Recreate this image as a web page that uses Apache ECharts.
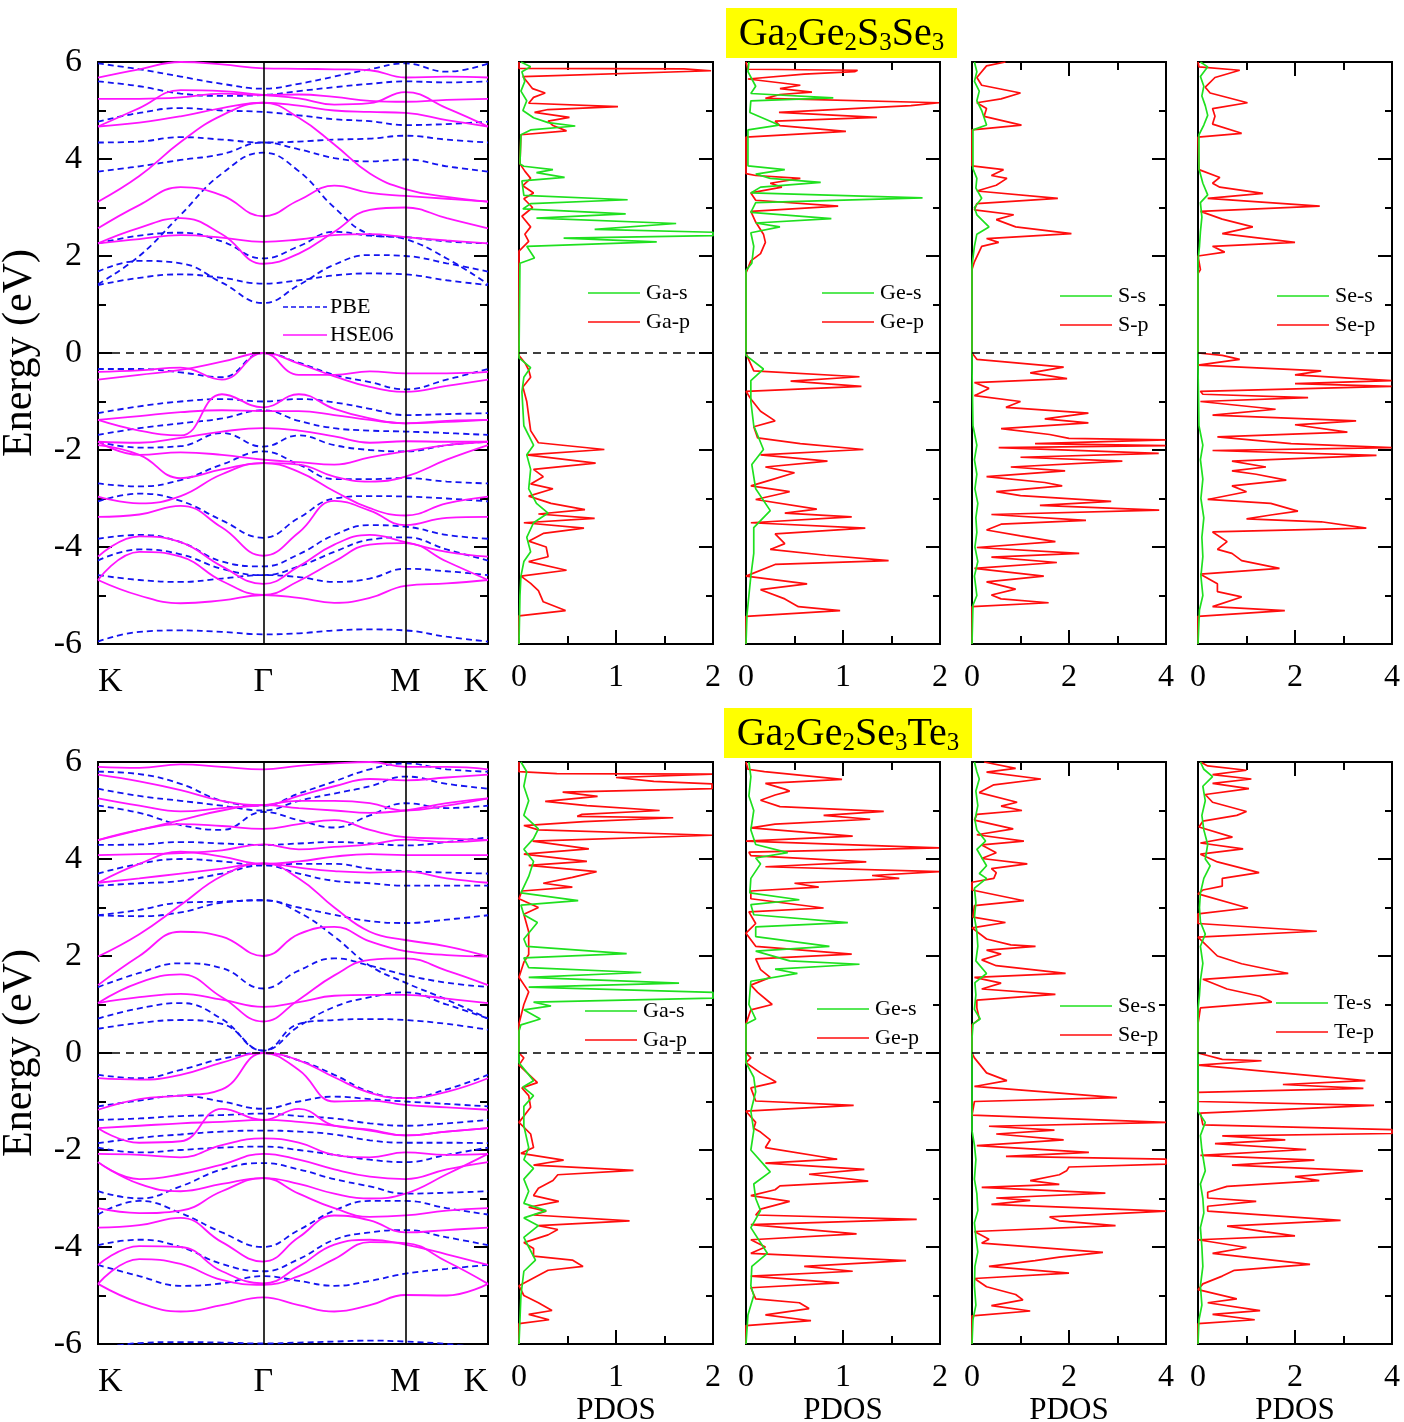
<!DOCTYPE html>
<html>
<head>
<meta charset="utf-8">
<title>Band structure and PDOS</title>
<script src="https://cdn.jsdelivr.net/npm/echarts@6.0.0/dist/echarts.min.js"></script>
<style>
	html, body { margin: 0; padding: 0; background: #fff; }
	#main { width: 1404px; height: 1422px; }
</style>
</head>
<body>
<div id="main"></div>
<script>
// k path: K - Gamma - M - K
var kPath = [0, 0.25, 0.5, 0.75, 1, 1.215, 1.43, 1.645, 1.86, 2.11, 2.36];
var kTicks = [0, 1, 1.86, 2.36];
var kLabels = ['K', 'Γ', 'M', 'K'];

// Ga2Ge2S3Se3 bands (eV at each kPath point)
var pbeTop = [
	[1.40, 1.55, 1.62, 1.55, 1.43, 1.5, 1.6, 1.64, 1.62, 1.5, 1.40],
	[1.68, 1.9, 1.85, 1.45, 1.03, 1.4, 1.82, 2.02, 2.0, 1.85, 1.68],
	[2.26, 2.42, 2.48, 2.3, 1.95, 2.2, 2.5, 2.42, 2.39, 2.3, 2.26],
	[1.42, 2.0, 2.85, 3.7, 4.13, 3.75, 3.0, 2.45, 2.35, 1.95, 1.42],
	[3.74, 3.85, 3.98, 4.1, 4.34, 4.2, 4.02, 3.95, 3.99, 3.85, 3.74],
	[4.34, 4.36, 4.45, 4.4, 4.34, 4.36, 4.4, 4.42, 4.48, 4.4, 4.34],
	[4.77, 4.95, 5.05, 5.0, 4.97, 4.9, 4.82, 4.78, 4.7, 4.72, 4.77],
	[5.6, 5.5, 5.35, 5.3, 5.32, 5.4, 5.48, 5.55, 5.6, 5.58, 5.6],
	[5.97, 5.85, 5.7, 5.55, 5.45, 5.55, 5.7, 5.85, 5.97, 5.8, 5.97],
	[-0.33, -0.33, -0.4, -0.5, 0, -0.2, -0.45, -0.6, -0.75, -0.55, -0.33],
	[-1.24, -1.1, -1.0, -0.95, -1.0, -0.95, -1.02, -1.15, -1.28, -1.26, -1.24],
	[-1.69, -1.55, -1.45, -1.35, -1.18, -1.4, -1.55, -1.6, -1.62, -1.65, -1.69],
	[-1.83, -1.95, -1.92, -1.65, -1.93, -1.7, -1.9, -2.0, -2.03, -1.9, -1.83],
	[-2.69, -2.75, -2.62, -2.3, -2.03, -2.3, -2.6, -2.6, -2.58, -2.65, -2.69],
	[-3.06, -2.9, -3.05, -3.45, -3.81, -3.4, -3.0, -2.95, -2.96, -3.0, -3.06],
	[-3.83, -3.75, -3.9, -4.3, -4.4, -4.15, -3.75, -3.55, -3.58, -3.75, -3.83],
	[-4.28, -4.05, -4.15, -4.45, -4.58, -4.4, -4.1, -3.85, -3.8, -4.05, -4.28],
	[-4.58, -4.68, -4.72, -4.65, -4.58, -4.62, -4.72, -4.65, -4.45, -4.5, -4.58],
	[-5.95, -5.75, -5.72, -5.75, -5.8, -5.78, -5.72, -5.7, -5.72, -5.85, -5.95],
];
var hseTop = [
	[2.26, 2.58, 2.78, 2.45, 1.84, 2.05, 2.5, 2.95, 3.0, 2.78, 2.57],
	[2.26, 2.35, 2.43, 2.38, 2.29, 2.34, 2.43, 2.45, 2.39, 2.32, 2.26],
	[2.57, 3.05, 3.42, 3.25, 2.82, 3.15, 3.45, 3.3, 3.24, 3.18, 3.12],
	[3.12, 3.65, 4.35, 4.9, 5.16, 4.85, 4.3, 3.7, 3.38, 3.22, 3.12],
	[4.67, 4.75, 4.88, 5.05, 5.16, 5.1, 5.0, 4.97, 4.95, 4.8, 4.67],
	[4.67, 5.05, 5.42, 5.4, 5.32, 5.25, 5.12, 5.15, 5.38, 5.05, 4.67],
	[5.24, 5.24, 5.27, 5.35, 5.32, 5.33, 5.28, 5.2, 5.18, 5.22, 5.24],
	[5.68, 5.85, 6.0, 5.95, 5.87, 5.86, 5.85, 5.83, 5.68, 5.7, 5.68],
	[-0.39, -0.36, -0.3, -0.55, 0, -0.45, -0.45, -0.38, -0.42, -0.42, -0.39],
	[-0.55, -0.45, -0.35, -0.18, 0, -0.22, -0.48, -0.7, -0.8, -0.68, -0.55],
	[-1.38, -1.6, -1.7, -0.85, -1.12, -0.85, -1.15, -1.35, -1.45, -1.42, -1.38],
	[-1.38, -1.3, -1.22, -1.18, -1.2, -1.2, -1.28, -1.38, -1.45, -1.4, -1.38],
	[-1.83, -1.85, -1.75, -1.62, -1.55, -1.6, -1.72, -1.85, -1.82, -1.83, -1.83],
	[-1.83, -2.1, -2.05, -2.1, -2.2, -2.25, -2.3, -2.15, -2.03, -1.9, -1.83],
	[-1.9, -2.1, -2.58, -2.4, -2.27, -2.3, -2.55, -2.65, -2.55, -2.2, -1.9],
	[-2.96, -3.1, -2.95, -2.5, -2.27, -2.45, -2.85, -3.2, -3.35, -3.1, -2.96],
	[-3.38, -3.33, -3.15, -3.6, -4.18, -3.7, -3.05, -3.25, -3.55, -3.4, -3.38],
	[-4.2, -3.78, -3.9, -4.4, -4.76, -4.4, -3.95, -3.75, -3.9, -4.1, -4.2],
	[-4.68, -4.1, -4.2, -4.7, -4.99, -4.7, -4.3, -3.95, -3.92, -4.3, -4.68],
	[-4.68, -5.0, -5.16, -5.1, -4.99, -5.05, -5.15, -5.05, -4.8, -4.75, -4.68],
];

// Ga2Ge2Se3Te3 bands
var pbeBot = [
	[0.5, 0.62, 0.68, 0.6, 0.05, 0.6, 0.68, 0.7, 0.68, 0.6, 0.48],
	[0.71, 0.92, 1.03, 0.7, 0.05, 0.55, 0.95, 1.15, 1.25, 1.0, 0.71],
	[1.36, 1.65, 1.85, 1.75, 1.33, 1.7, 1.95, 1.8, 1.61, 1.45, 1.36],
	[2.84, 2.95, 3.1, 3.12, 3.15, 2.9, 2.4, 1.8, 1.45, 1.1, 0.71],
	[2.84, 2.82, 2.9, 3.1, 3.15, 3.0, 2.85, 2.72, 2.68, 2.75, 2.84],
	[3.45, 3.5, 3.55, 3.7, 3.87, 3.7, 3.55, 3.5, 3.45, 3.45, 3.45],
	[3.7, 3.9, 4.0, 3.95, 3.87, 3.9, 3.9, 3.8, 3.75, 3.72, 3.7],
	[4.29, 4.3, 4.35, 4.32, 4.29, 4.32, 4.35, 4.32, 4.28, 4.35, 4.45],
	[5.1, 4.95, 4.7, 4.6, 4.97, 4.8, 4.65, 4.9, 5.15, 5.05, 5.1],
	[5.45, 5.3, 5.2, 5.1, 5.0, 5.2, 5.35, 5.5, 5.7, 5.55, 5.45],
	[5.8, 5.75, 5.55, 5.2, 5.1, 5.35, 5.6, 5.85, 5.97, 5.85, 5.8],
	[-0.45, -0.52, -0.35, -0.12, 0, -0.15, -0.45, -0.8, -0.93, -0.75, -0.45],
	[-1.1, -0.98, -0.88, -1.0, -1.15, -1.0, -0.9, -0.95, -1.0, -1.05, -1.1],
	[-1.38, -1.35, -1.3, -1.28, -1.25, -1.3, -1.35, -1.45, -1.5, -1.45, -1.38],
	[-1.86, -1.75, -1.68, -1.62, -1.6, -1.62, -1.68, -1.8, -1.85, -1.85, -1.86],
	[-1.95, -2.05, -2.0, -1.95, -1.93, -2.0, -2.1, -2.2, -2.25, -2.1, -1.95],
	[-2.85, -3.0, -2.75, -2.4, -2.27, -2.4, -2.6, -2.75, -2.9, -2.88, -2.85],
	[-3.33, -3.05, -3.3, -3.7, -4.0, -3.65, -3.25, -3.05, -3.05, -3.2, -3.33],
	[-3.96, -3.85, -4.0, -4.35, -4.5, -4.25, -3.85, -3.7, -3.65, -3.8, -3.96],
	[-4.37, -4.6, -4.8, -4.75, -4.6, -4.7, -4.8, -4.7, -4.55, -4.45, -4.37],
	[-6.1, -5.98, -5.96, -5.97, -5.99, -5.97, -5.95, -5.93, -5.95, -6.0, -6.1],
];
var hseBot = [
	[1.03, 1.15, 1.22, 1.1, 0.95, 1.05, 1.18, 1.2, 1.2, 1.12, 1.03],
	[1.03, 1.45, 1.62, 1.15, 0.65, 1.1, 1.6, 1.92, 1.95, 1.7, 1.40],
	[1.40, 2.0, 2.5, 2.4, 2.0, 2.45, 2.6, 2.3, 2.1, 2.02, 1.99],
	[1.99, 2.45, 3.05, 3.65, 3.91, 3.6, 3.0, 2.5, 2.33, 2.2, 1.99],
	[3.51, 3.6, 3.7, 3.8, 3.91, 3.82, 3.75, 3.72, 3.74, 3.6, 3.51],
	[3.51, 3.9, 4.15, 4.05, 3.9, 3.95, 4.05, 4.1, 4.08, 4.08, 4.08],
	[4.08, 4.1, 4.12, 4.18, 4.3, 4.2, 4.25, 4.3, 4.4, 4.35, 4.39],
	[4.39, 4.6, 4.72, 4.68, 4.62, 4.72, 4.8, 4.6, 4.45, 4.42, 4.39],
	[4.39, 4.6, 4.8, 5.0, 5.11, 5.05, 5.0, 4.95, 5.0, 5.15, 5.25],
	[5.25, 5.1, 4.98, 5.05, 5.11, 5.2, 5.2, 5.15, 5.0, 5.1, 5.25],
	[5.74, 5.6, 5.42, 5.2, 5.11, 5.3, 5.5, 5.65, 5.62, 5.68, 5.74],
	[5.9, 5.88, 5.95, 5.9, 5.85, 5.92, 5.97, 6.0, 5.9, 5.9, 5.85],
	[-0.52, -0.55, -0.45, -0.2, 0, -0.15, -0.5, -0.82, -0.93, -0.8, -0.52],
	[-1.17, -0.95, -0.88, -0.75, 0, -0.35, -1.0, -0.98, -1.07, -1.12, -1.17],
	[-1.55, -1.85, -1.82, -1.15, -1.38, -1.15, -1.5, -1.58, -1.7, -1.62, -1.55],
	[-1.55, -1.5, -1.45, -1.42, -1.38, -1.42, -1.5, -1.6, -1.7, -1.62, -1.55],
	[-2.08, -2.1, -2.15, -1.9, -1.76, -1.85, -2.1, -2.15, -2.05, -2.1, -2.08],
	[-2.25, -2.6, -2.5, -2.3, -2.08, -2.2, -2.4, -2.55, -2.6, -2.4, -2.25],
	[-2.25, -2.7, -2.85, -2.7, -2.58, -2.7, -2.9, -3.0, -2.9, -2.5, -2.08],
	[-3.2, -3.3, -3.25, -2.85, -2.58, -2.9, -3.2, -3.38, -3.35, -3.25, -3.2],
	[-3.6, -3.55, -3.4, -3.9, -4.3, -3.8, -3.35, -3.45, -3.7, -3.65, -3.6],
	[-4.37, -3.98, -4.0, -4.5, -4.75, -4.4, -3.95, -3.85, -3.95, -4.15, -4.37],
	[-4.76, -4.25, -4.35, -4.68, -4.78, -4.6, -4.25, -3.9, -3.92, -4.3, -4.76],
	[-4.76, -5.15, -5.33, -5.2, -5.04, -5.2, -5.33, -5.2, -4.99, -5.0, -4.76],
];

// PDOS curves as [energy, states/eV] pairs
var gaS1 = [[6,0.02],[5.9,0.12],[5.8,0.03],[5.6,0.06],[5.4,0.02],[5.2,0.08],[5.0,0.04],[4.85,0.15],[4.75,0.3],[4.68,0.58],[4.6,0.12],[4.5,0.02],[3.9,0.01],[3.85,0.05],[3.78,0.35],[3.72,0.18],[3.62,0.47],[3.55,0.03],[3.25,0.05],[3.16,1.12],[3.08,0.12],[2.97,0.04],[2.87,1.1],[2.78,0.18],[2.67,1.62],[2.55,0.78],[2.49,2.0],[2.42,2.0],[2.37,0.46],[2.29,1.42],[2.2,0.08],[1.96,0.16],[1.85,0.01],[-0.1,0],[-0.3,0.12],[-0.5,0.05],[-0.8,0.03],[-1.5,0.05],[-1.9,0.15],[-2.1,0.08],[-2.4,0.12],[-2.8,0.1],[-3.1,0.18],[-3.3,0.3],[-3.5,0.15],[-3.8,0.08],[-4.1,0.12],[-4.3,0.05],[-4.6,0.02],[-5.0,0.01],[-6,0]];
var gaP1 = [[6,0],[5.87,0],[5.86,1.7],[5.82,1.98],[5.7,0.04],[5.55,0.1],[5.45,0.14],[5.36,0.27],[5.27,0.15],[5.15,0.1],[5.08,1.02],[5.02,0.3],[4.96,0.16],[4.86,0.52],[4.78,0.3],[4.69,0.35],[4.58,0.49],[4.5,0.02],[3.9,0.01],[3.75,0.06],[3.6,0.12],[3.45,0.04],[3.3,0.15],[3.18,0.05],[3.0,0.14],[2.82,0.03],[2.6,0.12],[2.45,0.06],[2.3,0.1],[2.1,0],[-0.05,0],[-0.2,0.06],[-0.35,0.1],[-0.5,0.12],[-0.7,0.04],[-1.0,0.08],[-1.3,0.1],[-1.6,0.12],[-1.85,0.2],[-1.99,0.88],[-2.1,0.08],[-2.27,0.79],[-2.4,0.15],[-2.55,0.25],[-2.7,0.12],[-2.8,0.35],[-2.95,0.1],[-3.1,0.33],[-3.23,0.68],[-3.32,0.2],[-3.41,0.78],[-3.5,0.05],[-3.61,0.67],[-3.72,0.25],[-3.88,0.1],[-4.0,0.28],[-4.2,0.3],[-4.3,0.1],[-4.48,0.49],[-4.6,0.02],[-4.75,0.12],[-4.9,0.2],[-5.13,0.25],[-5.31,0.48],[-5.42,0],[-6,0]];
var geS1 = [[6,0.03],[5.8,0.02],[5.5,0.1],[5.35,0.05],[5.26,0.9],[5.2,0.05],[4.96,0.04],[4.7,0.34],[4.6,0.02],[3.86,0.02],[3.78,0.4],[3.69,0.1],[3.6,0.25],[3.52,0.77],[3.42,0.15],[3.3,0.05],[3.2,1.82],[3.1,0.1],[2.9,0.05],[2.77,0.88],[2.68,0.1],[2.6,0.35],[2.48,0.05],[2.2,0.08],[1.85,0.06],[1.7,0],[-0.05,0],[-0.33,0.18],[-0.57,0.05],[-1.0,0.05],[-1.5,0.08],[-1.99,0.18],[-2.3,0.06],[-2.8,0.1],[-3.25,0.25],[-3.6,0.08],[-4.13,0.08],[-4.6,0.05],[-5.0,0.03],[-5.4,0.01],[-6,0]];
var geP1 = [[6,0],[5.85,0.02],[5.83,1.15],[5.8,1.12],[5.75,0.6],[5.65,0.02],[5.52,0.56],[5.45,0.35],[5.38,0.68],[5.33,0.35],[5.25,0.2],[5.16,1.99],[5.1,1.7],[4.96,0.34],[4.86,1.35],[4.78,0.3],[4.69,0.35],[4.57,1.03],[4.45,0],[3.7,0],[3.66,0.1],[3.6,0.56],[3.5,0.25],[3.42,0.37],[3.3,0.05],[3.15,0.1],[3.03,0.95],[2.92,0.05],[2.7,0.1],[2.45,0.18],[2.28,0.2],[2.05,0.15],[1.9,0.05],[1.65,0],[0,0],[-0.1,0.02],[-0.37,0.08],[-0.49,1.17],[-0.58,0.46],[-0.69,1.19],[-0.79,0],[-0.95,0.05],[-1.2,0.15],[-1.4,0.3],[-1.52,0.08],[-1.75,0.12],[-1.87,0.56],[-1.99,1.21],[-2.1,0.15],[-2.23,0.84],[-2.35,0.2],[-2.47,0.5],[-2.62,0.25],[-2.74,0.05],[-2.86,0.45],[-3.02,0.1],[-3.22,0.73],[-3.3,0.4],[-3.38,1.09],[-3.5,0.05],[-3.61,1.23],[-3.73,0.3],[-3.93,0.4],[-4.05,0.25],[-4.17,0.82],[-4.28,1.47],[-4.36,0.3],[-4.6,0],[-4.76,0.63],[-4.88,0.15],[-5.07,0.4],[-5.23,0.54],[-5.31,0.97],[-5.43,0],[-6,0]];
var sS1 = [[6,0.05],[5.8,0.1],[5.6,0.05],[5.4,0.15],[5.2,0.1],[5.0,0.2],[4.85,0.25],[4.7,0.3],[4.6,0.02],[3.8,0.02],[3.6,0.1],[3.4,0.08],[3.19,0.2],[3.0,0.05],[2.85,0.1],[2.6,0.35],[2.45,0.1],[2.2,0.05],[1.8,0],[-0.3,0],[-1.5,0.02],[-1.9,0.1],[-2.2,0.05],[-2.5,0.1],[-2.8,0.06],[-3.1,0.12],[-3.4,0.08],[-3.7,0.1],[-4.0,0.06],[-4.3,0.12],[-4.6,0.05],[-5.0,0.1],[-5.2,0.02],[-6,0]];
var sP1 = [[6,0.69],[5.92,0.3],[5.68,0.1],[5.52,0.2],[5.36,1.0],[5.24,0.6],[5.16,0.1],[5.04,0.3],[4.88,0.25],[4.7,1.02],[4.6,0],[3.86,0],[3.78,0.65],[3.66,0.4],[3.6,0.72],[3.46,0.5],[3.34,0.1],[3.19,1.77],[3.08,0.1],[2.95,0.05],[2.85,0.86],[2.75,0.5],[2.6,0.9],[2.46,2.05],[2.36,0.3],[2.28,0.55],[2.2,0.2],[1.88,0.05],[1.72,0],[0,0],[-0.13,0.1],[-0.29,1.89],[-0.41,1.2],[-0.53,1.96],[-0.61,0.05],[-0.73,0.35],[-0.88,0.05],[-1.0,1.0],[-1.12,0.7],[-1.24,2.4],[-1.36,1.5],[-1.44,2.4],[-1.56,0.6],[-1.68,1.6],[-1.76,2.0],[-1.79,3.99],[-1.87,1.3],[-1.91,3.99],[-1.95,0.55],[-2.07,3.85],[-2.15,1.0],[-2.23,3.1],[-2.35,0.8],[-2.43,1.92],[-2.55,0.3],[-2.67,1.5],[-2.74,1.86],[-2.86,0.5],[-2.94,1.0],[-3.06,2.87],[-3.14,1.4],[-3.24,3.86],[-3.33,0.4],[-3.45,2.35],[-3.53,0.6],[-3.65,0.3],[-3.77,1.0],[-3.89,1.72],[-4.01,0.1],[-4.13,2.21],[-4.21,0.4],[-4.32,1.75],[-4.44,0.05],[-4.6,1.48],[-4.72,0.3],[-4.87,0.9],[-4.99,0.4],[-5.07,0.6],[-5.15,1.58],[-5.23,0],[-6,0]];
var seS1 = [[6,0.05],[5.9,0.2],[5.7,0.05],[5.5,0.12],[5.3,0.08],[5.1,0.15],[4.9,0.2],[4.7,0.12],[4.5,0.02],[3.8,0.02],[3.5,0.1],[3.26,0.2],[3.1,0.05],[2.8,0.08],[2.5,0.05],[2.2,0.03],[1.9,0],[-0.3,0],[-1.5,0.02],[-1.9,0.1],[-2.2,0.05],[-2.6,0.1],[-3.0,0.06],[-3.4,0.12],[-3.8,0.08],[-4.2,0.1],[-4.6,0.06],[-5.0,0.1],[-5.3,0.03],[-6,0]];
var seP1 = [[6,0],[5.9,0.02],[5.83,0.86],[5.68,0.35],[5.48,0.15],[5.36,0.25],[5.16,1.02],[5.04,0.3],[4.88,0.35],[4.72,0.3],[4.53,0.9],[4.45,0],[3.78,0.02],[3.62,0.45],[3.5,0.3],[3.42,0.45],[3.29,1.34],[3.19,0.2],[3.03,2.51],[2.92,0.05],[2.76,0.5],[2.6,1.13],[2.46,0.5],[2.28,2.0],[2.2,0.3],[2.08,0.55],[2.0,0],[1.72,0.05],[1.64,0],[0,0],[-0.05,0.5],[-0.13,0.86],[-0.25,0],[-0.37,2.54],[-0.45,2.0],[-0.57,3.99],[-0.63,2.0],[-0.69,3.99],[-0.79,0.05],[-0.85,0.1],[-0.92,2.27],[-1.0,0.05],[-1.16,1.6],[-1.28,0.3],[-1.4,3.26],[-1.48,2.0],[-1.63,3.08],[-1.73,0.4],[-1.87,1.92],[-1.95,3.99],[-2.01,0.3],[-2.11,3.68],[-2.23,0.7],[-2.35,1.4],[-2.43,0.7],[-2.5,1.2],[-2.62,1.82],[-2.74,0.7],[-2.86,1.0],[-3.02,0.2],[-3.1,1.5],[-3.26,2.06],[-3.34,1.5],[-3.42,1.0],[-3.48,2.54],[-3.61,3.47],[-3.69,0.3],[-3.89,0.6],[-4.05,0.4],[-4.13,0.7],[-4.28,0.9],[-4.44,1.68],[-4.56,0.05],[-4.76,0.4],[-4.92,0.4],[-5.03,0.9],[-5.23,0.3],[-5.31,1.79],[-5.43,0],[-6,0]];

var gaS2 = [[6,0.02],[5.8,0.08],[5.5,0.05],[5.2,0.1],[4.9,0.05],[4.62,0.2],[4.42,0.15],[4.2,0.05],[3.95,0.15],[3.64,0.1],[3.3,0.02],[3.14,0.61],[3.05,0.02],[2.85,0.05],[2.69,0.19],[2.35,0.05],[2.2,0.08],[2.05,1.11],[1.96,0.05],[1.76,0.1],[1.66,1.26],[1.56,0.1],[1.44,1.65],[1.36,0.1],[1.25,2.0],[1.13,2.0],[1.05,0.15],[0.97,0.33],[0.89,0.05],[0.7,0.22],[0.58,0.02],[0.45,0],[-0.2,0],[-0.57,0.15],[-0.7,0.04],[-0.88,0.15],[-1.1,0.05],[-1.5,0.05],[-1.95,0.1],[-2.2,0.05],[-2.38,0.15],[-2.6,0.05],[-2.85,0.1],[-3.1,0.05],[-3.25,0.28],[-3.4,0.05],[-3.56,0.2],[-3.8,0.05],[-4.0,0.1],[-4.27,0.17],[-4.5,0.05],[-5.0,0.02],[-6,0]];
var gaP2 = [[6,0],[5.8,0],[5.76,0.39],[5.75,1.99],[5.72,1.99],[5.68,1.0],[5.6,1.39],[5.55,1.99],[5.45,1.99],[5.38,0.45],[5.29,0.81],[5.19,0.27],[5.1,0.7],[5.0,1.45],[4.92,0.65],[4.88,0.6],[4.85,1.59],[4.77,0.67],[4.69,0.05],[4.6,0.2],[4.49,1.99],[4.37,0.14],[4.21,0.72],[4.1,0.05],[3.95,0.7],[3.87,0.1],[3.74,0.8],[3.62,0.55],[3.5,0.25],[3.42,0.55],[3.34,0.03],[3.18,0],[3.0,0.2],[2.86,0.05],[2.5,0.1],[2.03,0.1],[1.87,0.05],[1.56,0],[1.26,0.1],[1.0,0.05],[0.6,0],[0,0],[-0.1,0.05],[-0.25,0],[-0.61,0.19],[-0.72,0.03],[-0.88,0.1],[-1.12,0.12],[-1.43,0],[-1.67,0.12],[-1.95,0.15],[-2.07,0.02],[-2.21,0.46],[-2.31,0.15],[-2.42,1.18],[-2.51,0.4],[-2.63,0.35],[-2.79,0.2],[-2.94,0.15],[-3.06,0.41],[-3.18,0.1],[-3.26,0.28],[-3.34,0.15],[-3.46,1.14],[-3.56,0.2],[-3.64,0.4],[-3.75,0.3],[-3.91,0.05],[-4.03,0.15],[-4.19,0.15],[-4.27,0.55],[-4.4,0.66],[-4.48,0.3],[-4.64,0.15],[-4.8,0],[-5.0,0.05],[-5.15,0.2],[-5.31,0.34],[-5.39,0.1],[-5.5,0.31],[-5.58,0],[-6,0]];
var geS2 = [[6,0.03],[5.7,0.05],[5.3,0.03],[5.0,0.08],[4.6,0.05],[4.3,0.1],[4.13,0.43],[4.02,0.1],[3.9,0.15],[3.6,0.05],[3.3,0.04],[3.16,0.55],[3.06,0.05],[2.85,0.08],[2.69,1.05],[2.6,0.1],[2.4,0.1],[2.2,0.86],[2.1,0.1],[1.9,0.45],[1.83,1.17],[1.73,0.3],[1.64,0.53],[1.48,0.05],[1.0,0.03],[0.7,0.1],[0.6,0],[-0.2,0],[-0.5,0.08],[-0.8,0.1],[-1.2,0.05],[-1.6,0.08],[-2.0,0.05],[-2.45,0.25],[-2.7,0.08],[-3.0,0.1],[-3.25,0.15],[-3.6,0.05],[-4.13,0.22],[-4.4,0.06],[-4.8,0.05],[-5.0,0.08],[-5.4,0.02],[-6,0]];
var geP2 = [[6,0],[5.85,0.02],[5.8,0.19],[5.64,0.99],[5.56,0.2],[5.44,0.4],[5.4,0.45],[5.32,0.3],[5.21,0.15],[5.08,0.35],[4.98,1.42],[4.9,0.8],[4.82,1.28],[4.72,0.3],[4.64,0.05],[4.47,1.1],[4.37,0],[4.23,1.99],[4.14,0.03],[4.07,0.05],[3.94,1.24],[3.84,0.2],[3.74,1.99],[3.66,1.3],[3.6,1.58],[3.5,0.5],[3.42,0.75],[3.34,0.05],[3.18,0.05],[2.99,0.8],[2.91,0.03],[2.67,0.1],[2.47,0],[2.2,0.1],[2.04,1.09],[1.94,0.1],[1.72,0.15],[1.56,0.25],[1.4,0.05],[1.25,0.12],[1.0,0.27],[0.89,0.05],[0.6,0],[0,0],[-0.1,0.05],[-0.2,0],[-0.41,0.15],[-0.6,0.31],[-0.72,0.05],[-0.99,0.1],[-1.08,1.11],[-1.2,0],[-1.43,0.1],[-1.55,0.08],[-1.63,0.15],[-1.79,0.25],[-1.95,0.2],[-2.19,0.94],[-2.27,0.2],[-2.4,1.22],[-2.5,0.65],[-2.64,1.26],[-2.74,0.35],[-2.82,0.3],[-2.94,0.05],[-3.06,0.45],[-3.22,0.15],[-3.34,0.1],[-3.43,1.76],[-3.54,0.05],[-3.73,1.14],[-3.85,0.05],[-4.0,0.2],[-4.13,0.05],[-4.28,1.65],[-4.4,0.6],[-4.5,1.1],[-4.6,0.05],[-4.74,0.96],[-4.84,0.05],[-5.07,0.1],[-5.15,0.55],[-5.27,0.65],[-5.4,0.2],[-5.52,0.67],[-5.62,0],[-6,0]];
var seS2 = [[6,0.05],[5.8,0.1],[5.65,0.15],[5.4,0.08],[5.1,0.12],[4.8,0.06],[4.6,0.1],[4.37,0.28],[4.2,0.1],[3.86,0.3],[3.7,0.15],[3.6,0.3],[3.4,0.05],[3.1,0.08],[2.8,0.05],[2.5,0.1],[2.2,0.12],[1.9,0.08],[1.64,0.3],[1.45,0.06],[1.2,0.08],[0.9,0.05],[0.7,0.17],[0.6,0.02],[0.3,0],[-1.6,0],[-1.9,0.05],[-2.2,0.08],[-2.6,0.05],[-2.9,0.1],[-3.25,0.12],[-3.5,0.05],[-3.8,0.08],[-4.1,0.12],[-4.4,0.06],[-4.8,0.05],[-5.2,0.08],[-5.5,0.02],[-6,0]];
var seP2 = [[6,0.25],[5.87,0.9],[5.79,0.3],[5.65,1.42],[5.53,0.45],[5.37,0.15],[5.17,0.93],[5.09,0.6],[5.0,1.03],[4.92,0.1],[4.8,0.05],[4.62,0.85],[4.5,0.1],[4.37,1.07],[4.29,0.2],[4.13,0.5],[4.01,0.2],[3.9,1.14],[3.8,0.4],[3.72,0.5],[3.6,0.45],[3.52,0],[3.36,0],[3.14,1.07],[3.04,0.05],[2.8,0.02],[2.69,0.69],[2.58,0],[2.35,0.3],[2.23,0.8],[2.2,1.31],[2.12,0.3],[2.04,0.6],[1.92,0.2],[1.8,0.5],[1.64,1.93],[1.56,0.05],[1.44,0.6],[1.32,0.2],[1.21,1.72],[1.09,0.1],[0.93,0.1],[0.7,0.15],[0.58,0],[0,0],[-0.1,0.05],[-0.41,0.3],[-0.57,0.72],[-0.69,0.05],[-0.92,2.99],[-1.0,0.05],[-1.28,0],[-1.43,4.0],[-1.51,0.35],[-1.59,1.7],[-1.67,0.5],[-1.79,1.89],[-1.91,0.1],[-2.05,2.41],[-2.13,0.7],[-2.19,4.0],[-2.29,4.0],[-2.35,2.0],[-2.43,1.95],[-2.51,1.8],[-2.63,1.2],[-2.71,1.8],[-2.77,0.2],[-2.89,2.75],[-2.99,0.5],[-3.04,1.2],[-3.12,0.4],[-3.26,4.0],[-3.38,1.6],[-3.46,1.8],[-3.56,2.96],[-3.68,0.05],[-3.84,0.35],[-3.92,0.2],[-4.11,2.7],[-4.21,1.8],[-4.28,1.3],[-4.4,0.35],[-4.54,2.0],[-4.65,0.05],[-4.82,0.3],[-4.98,0.9],[-5.09,1.05],[-5.21,0.4],[-5.32,1.2],[-5.42,0],[-6,0]];
var teS2 = [[6,0.05],[5.85,0.12],[5.7,0.3],[5.5,0.1],[5.2,0.15],[4.9,0.08],[4.6,0.12],[4.3,0.2],[4.0,0.15],[3.86,0.25],[3.6,0.12],[3.3,0.05],[3.0,0.03],[2.7,0.05],[2.45,0.15],[2.2,0.05],[1.85,0.1],[1.5,0.05],[1.2,0.03],[0.9,0],[-1.2,0],[-1.43,0.15],[-1.7,0.05],[-2.0,0.08],[-2.43,0.15],[-2.7,0.05],[-3.0,0.1],[-3.3,0.12],[-3.6,0.05],[-4.0,0.08],[-4.4,0.1],[-4.8,0.05],[-5.2,0.08],[-5.5,0.02],[-6,0]];
var teP2 = [[6,0.05],[5.92,0.2],[5.83,1.0],[5.74,0.3],[5.65,1.1],[5.56,0.3],[5.45,1.05],[5.33,0.15],[5.17,0.3],[4.98,1.0],[4.9,0.8],[4.78,0.1],[4.66,0.02],[4.45,0.71],[4.33,0.05],[4.21,0.93],[4.1,0.05],[3.94,0.4],[3.72,1.26],[3.6,0.5],[3.44,0.5],[3.36,0.1],[3.28,0],[2.99,1.03],[2.87,0],[2.67,0],[2.51,2.45],[2.39,0],[2.0,0.4],[1.84,0.9],[1.64,1.86],[1.52,0.1],[1.32,0.6],[1.17,1.28],[1.05,1.52],[0.93,0.05],[0.6,0],[0,0],[-0.13,0.5],[-0.16,1.31],[-0.25,0],[-0.57,3.45],[-0.65,1.75],[-0.73,3.41],[-0.81,0],[-1.0,0],[-1.08,3.63],[-1.24,0.05],[-1.48,0.1],[-1.58,4.0],[-1.66,4.0],[-1.71,0.5],[-1.79,1.8],[-1.87,0.35],[-1.99,2.23],[-2.11,0.05],[-2.21,2.4],[-2.31,0.7],[-2.43,3.4],[-2.55,2.0],[-2.63,2.5],[-2.75,0.6],[-2.87,0.2],[-2.99,0.2],[-3.06,1.2],[-3.16,0.2],[-3.26,0.2],[-3.45,2.94],[-3.57,0.6],[-3.69,1.4],[-3.77,2.0],[-3.85,0],[-4.01,1.0],[-4.13,0.3],[-4.36,2.31],[-4.48,0.75],[-4.6,0.5],[-4.76,0.1],[-4.88,0],[-5.07,0.8],[-5.15,0.2],[-5.31,1.28],[-5.39,0.3],[-5.5,1.17],[-5.58,0],[-6,0]];

var elementsTop = ['Ga', 'Ge', 'S', 'Se'];
var elementsBot = ['Ga', 'Ge', 'Se', 'Te'];
var pdosMax = [2, 2, 4, 4];
var titleTop = [['Ga', '2'], ['Ge', '2'], ['S', '3'], ['Se', '3']];
var titleBot = [['Ga', '2'], ['Ge', '2'], ['Se', '3'], ['Te', '3']];

// layout
var FONT = '"Liberation Serif", "Times New Roman", serif';
var rowTops = [62, 762];
var plotH = 582;
var bandLeft = 98, bandWidth = 390;
var pdosLefts = [519, 746, 972, 1198], pdosWidth = 194;
var legendPos = [
	[[588, 293], [822, 293], [1060, 296], [1277, 296]],
	[[585, 1011], [817, 1009], [1060, 1006], [1276, 1003]],
];
var bandLegendPos = [[283, 307], [283, 335]];
var titleBoxes = [
	{ x: 726, y: 8, w: 231, h: 50 },
	{ x: 724, y: 708, w: 248, h: 50 },
];

var PBE_COLOR = '#1414f0';
var HSE_COLOR = '#ff14ff';
var S_COLOR = '#1fe01f';
var P_COLOR = '#ff0d0d';

var rows = [
	{ pbe: pbeTop, hse: hseTop, elements: elementsTop, s: [gaS1, geS1, sS1, seS1], p: [gaP1, geP1, sP1, seP1], title: titleTop },
	{ pbe: pbeBot, hse: hseBot, elements: elementsBot, s: [gaS2, geS2, seS2, teS2], p: [gaP2, geP2, seP2, teP2], title: titleBot },
];

// major ticks with half-step minor ticks, all pointing into the frame
function ticks(major, minor) {
	return {
		axisLine: { show: false, onZero: false },
		axisTick: { show: true, inside: true, length: major, lineStyle: { color: '#000', width: 2 } },
		minorTick: { show: true, splitNumber: 2, length: minor, lineStyle: { color: '#000', width: 2 } },
		splitLine: { show: false },
		minorSplitLine: { show: false },
	};
}

function axis(base, extra) {
	var out = {};
	Object.keys(base).forEach(function(k) { out[k] = base[k]; });
	Object.keys(extra).forEach(function(k) { out[k] = extra[k]; });
	return out;
}

function makeGrid(left, top, width) {
	return {
		left: left, top: top, width: width, height: plotH,
		show: true, borderColor: '#000', borderWidth: 2, backgroundColor: 'transparent',
		containLabel: false, outerBoundsMode: 'none',
	};
}

function bandSeries(bands, xi, yi, color, dashed, marks) {
	var out = [];
	bands.forEach(function(band, b) {
		var s = {
			type: 'line',
			xAxisIndex: xi,
			yAxisIndex: yi,
			data: kPath.map(function(k, i) { return [k, band[i]]; }),
			smooth: 0.45,
			showSymbol: false,
			silent: true,
			clip: true,
			lineStyle: { color: color, width: 1.8, type: dashed ? [6, 4] : 'solid' },
		};
		if (marks && b === 0) {
			s.markLine = {
				silent: true,
				symbol: ['none', 'none'],
				label: { show: false },
				lineStyle: { color: '#000', width: 1.6, type: 'solid' },
				data: [
					{ xAxis: kTicks[1] },
					{ xAxis: kTicks[2] },
					{ yAxis: 0, lineStyle: { color: '#000', width: 1.6, type: [8, 6] } },
				],
			};
		}
		out.push(s);
	});
	return out;
}

function pdosSeries(curve, xi, yi, color, zeroLine) {
	var s = {
		type: 'line',
		xAxisIndex: xi,
		yAxisIndex: yi,
		data: curve.map(function(p) { return [p[1], p[0]]; }),
		showSymbol: false,
		silent: true,
		clip: true,
		lineStyle: { color: color, width: 1.7 },
	};
	if (zeroLine) {
		s.markLine = {
			silent: true,
			symbol: ['none', 'none'],
			label: { show: false },
			lineStyle: { color: '#000', width: 1.6, type: [8, 6] },
			data: [{ yAxis: 0 }],
		};
	}
	return s;
}

function titleText(parts) {
	return parts.map(function(p) { return '{b|' + p[0] + '}{s|' + p[1] + '}'; }).join('');
}

function buildOption() {
	var grid = [], xAxis = [], yAxis = [], series = [], graphic = [];

	rows.forEach(function(row, r) {
		var top = rowTops[r];

		// band structure panel
		var gi = grid.length;
		grid.push(makeGrid(bandLeft, top, bandWidth));
		var xi = xAxis.length;
		xAxis.push({
			gridIndex: gi, type: 'value', min: 0, max: kTicks[3],
			axisLine: { show: false, onZero: false }, axisTick: { show: false }, splitLine: { show: false },
			axisLabel: {
				customValues: kTicks,
				formatter: function(v) { var i = kTicks.indexOf(v); return i >= 0 ? kLabels[i] : ''; },
				fontFamily: FONT, fontSize: 34, color: '#000', margin: 21,
				alignMinLabel: 'left', alignMaxLabel: 'right',
			},
		});
		var yi = yAxis.length;
		yAxis.push(axis(ticks(14, 8), {
			gridIndex: gi, type: 'value', min: -6, max: 6, interval: 2,
			name: 'Energy (eV)', nameLocation: 'middle', nameGap: 57,
			nameTextStyle: { fontFamily: FONT, fontSize: 42, color: '#000' },
			axisLabel: { fontFamily: FONT, fontSize: 34, color: '#000', margin: 16 },
		}));
		yAxis.push(axis(ticks(14, 8), {
			gridIndex: gi, type: 'value', position: 'right', min: -6, max: 6, interval: 2,
			axisLabel: { show: false },
		}));
		series = series.concat(bandSeries(row.pbe, xi, yi, PBE_COLOR, true, true));
		series = series.concat(bandSeries(row.hse, xi, yi, HSE_COLOR, false, false));

		// band legend (top panel only)
		if (r === 0) {
			var lx = bandLegendPos[0][0];
			graphic.push({ type: 'line', shape: { x1: lx, y1: bandLegendPos[0][1], x2: lx + 44, y2: bandLegendPos[0][1] }, style: { stroke: PBE_COLOR, lineWidth: 1.6, lineDash: [5, 3] } });
			graphic.push({ type: 'text', x: lx + 47, y: bandLegendPos[0][1], style: { text: 'PBE', font: '22px ' + FONT, fill: '#000', verticalAlign: 'middle' } });
			graphic.push({ type: 'line', shape: { x1: lx, y1: bandLegendPos[1][1], x2: lx + 44, y2: bandLegendPos[1][1] }, style: { stroke: HSE_COLOR, lineWidth: 1.6 } });
			graphic.push({ type: 'text', x: lx + 47, y: bandLegendPos[1][1], style: { text: 'HSE06', font: '22px ' + FONT, fill: '#000', verticalAlign: 'middle' } });
		}

		// PDOS panels
		pdosLefts.forEach(function(left, j) {
			var max = pdosMax[j];
			var g = grid.length;
			grid.push(makeGrid(left, top, pdosWidth));
			var bx = xAxis.length;
			var bottomAxis = axis(ticks(14, 8), {
				gridIndex: g, type: 'value', position: 'bottom', min: 0, max: max, interval: max / 2,
				axisLabel: { fontFamily: FONT, fontSize: 32, color: '#000', margin: 18, showMinLabel: true, showMaxLabel: true },
			});
			if (r === 1) {
				bottomAxis.name = 'PDOS';
				bottomAxis.nameLocation = 'middle';
				bottomAxis.nameGap = 50;
				bottomAxis.nameTextStyle = { fontFamily: FONT, fontSize: 31, color: '#000' };
			}
			xAxis.push(bottomAxis);
			xAxis.push(axis(ticks(14, 8), {
				gridIndex: g, type: 'value', position: 'top', min: 0, max: max, interval: max / 2,
				axisLabel: { show: false },
			}));
			var py = yAxis.length;
			yAxis.push(axis(ticks(14, 7), {
				gridIndex: g, type: 'value', position: 'right', min: -6, max: 6, interval: 2,
				axisLabel: { show: false },
			}));
			series.push(pdosSeries(row.p[j], bx, py, P_COLOR, true));
			series.push(pdosSeries(row.s[j], bx, py, S_COLOR, false));

			// legend for this panel
			var pos = legendPos[r][j];
			var name = row.elements[j];
			[[S_COLOR, '-s', 0], [P_COLOR, '-p', 29]].forEach(function(it) {
				var y = pos[1] + it[2];
				graphic.push({ type: 'line', shape: { x1: pos[0], y1: y, x2: pos[0] + 52, y2: y }, style: { stroke: it[0], lineWidth: 1.7 } });
				graphic.push({ type: 'text', x: pos[0] + 58, y: y, style: { text: name + it[1], font: '22px ' + FONT, fill: '#000', verticalAlign: 'middle' } });
			});
		});

		// compound title
		var box = titleBoxes[r];
		graphic.push({ type: 'rect', shape: { x: box.x, y: box.y, width: box.w, height: box.h }, style: { fill: '#ffff00' } });
		graphic.push({
			type: 'text', x: box.x + box.w / 2, y: box.y + box.h / 2 + 1,
			style: {
				text: titleText(row.title), align: 'center', verticalAlign: 'middle',
				rich: {
					b: { fontSize: 40, fontFamily: FONT, fill: '#000', lineHeight: 44 },
					s: { fontSize: 25, fontFamily: FONT, fill: '#000', lineHeight: 26, verticalAlign: 'bottom' },
				},
			},
		});
	});

	return {
		animation: false,
		backgroundColor: '#fff',
		grid: grid,
		xAxis: xAxis,
		yAxis: yAxis,
		series: series,
		graphic: graphic,
	};
}

var chart = echarts.init(document.getElementById('main'), null, { renderer: 'canvas' });
chart.setOption(buildOption());
</script>
</body>
</html>
